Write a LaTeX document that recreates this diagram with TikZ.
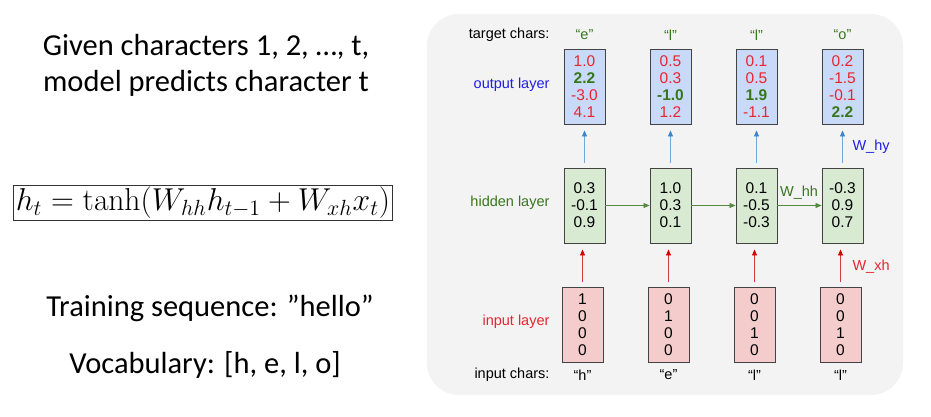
\documentclass[tikz,border=0pt]{standalone}
\usepackage[no-math]{fontspec}
\setmainfont{Liberation Sans}
\newfontfamily\slidefont{Carlito}
\usetikzlibrary{arrows.meta}
\definecolor{panel}{HTML}{F3F3F3}
\definecolor{outfill}{HTML}{C9DAF8}
\definecolor{hidfill}{HTML}{D9EAD3}
\definecolor{infill}{HTML}{F4CCCC}
\definecolor{boxline}{HTML}{434343}
\definecolor{nred}{HTML}{E8262E}
\definecolor{ngreen}{HTML}{38761D}
\definecolor{nblue}{HTML}{1F1FE6}
\definecolor{lblue}{HTML}{6FA8DC}
\definecolor{dblue}{HTML}{3D85C6}
\definecolor{lred}{HTML}{CC4040}
\begin{document}
\begin{tikzpicture}[x=1pt,y=-1pt,
  diag/.style={font=\fontsize{14.5}{17}\selectfont},
  cell/.style={draw=boxline, line width=0.9pt, minimum width=41pt, minimum height=75pt,
    inner sep=0pt, align=center, font=\fontsize{15.5}{17}\selectfont},
  outcell/.style={cell, fill=outfill},
  hidcell/.style={cell, fill=hidfill},
  incell/.style={cell, fill=infill},
  yarrow/.style={draw=lblue, line width=0.8pt, -{Triangle[length=6pt,width=5pt,fill=dblue,color=dblue]},
    shorten <=5pt, shorten >=6pt},
  xarrow/.style={draw=lred, line width=0.8pt, -{Triangle[length=6pt,width=5pt,fill=red!85!black,color=red!85!black]},
    shorten <=5pt, shorten >=6pt},
  harrow/.style={draw=ngreen!85, line width=0.8pt, -{Triangle[length=6pt,width=5pt]}},
  slide/.style={font=\slidefont\fontsize{30.5}{36}\selectfont, align=center}
]
\useasboundingbox (0,0) rectangle (931,417);

% left column: slide text
\node[slide] (given) at (206,65) {Given characters 1, 2, …, t,\\model predicts character t};
\node[draw=black!80, line width=0.8pt, inner sep=2pt] (eq) at (203,203)
  {\scalebox{1.83}{\LARGE$h_t = \tanh(W_{hh}h_{t-1} + W_{xh}x_t)$}};
\node[slide] (train) at (210,308) {Training sequence: ”hello”};
\node[slide] (vocab) at (205,365) {Vocabulary: [h, e, l, o]};

% right column: unrolled network
\fill[panel, rounded corners=32pt] (427,14) rectangle (903,395);

\node[diag, anchor=east] (tcl) at (553,35) {target chars:};
\node[diag, anchor=east, text=nblue] (ol) at (553,85) {output layer};
\node[diag, anchor=east, text=ngreen] (hl) at (553,203) {hidden layer};
\node[diag, anchor=east, text=nred] (il) at (553,322) {input layer};
\node[diag, anchor=east] (icl) at (553,375) {input chars:};

% output layer
\node[outcell] (o1) at (584.5,86.5) {\textcolor{nred}{1.0}\\\textcolor{ngreen}{\bfseries 2.2}\\\textcolor{nred}{-3.0}\\\textcolor{nred}{4.1}};
\node[outcell] (o2) at (670.5,86.5) {\textcolor{nred}{0.5}\\\textcolor{nred}{0.3}\\\textcolor{ngreen}{\bfseries -1.0}\\\textcolor{nred}{1.2}};
\node[outcell] (o3) at (756.5,86.5) {\textcolor{nred}{0.1}\\\textcolor{nred}{0.5}\\\textcolor{ngreen}{\bfseries 1.9}\\\textcolor{nred}{-1.1}};
\node[outcell] (o4) at (842.5,86.5) {\textcolor{nred}{0.2}\\\textcolor{nred}{-1.5}\\\textcolor{nred}{-0.1}\\\textcolor{ngreen}{\bfseries 2.2}};

% hidden layer
\node[hidcell] (h1) at (584.5,205.5) {0.3\\-0.1\\0.9};
\node[hidcell] (h2) at (670.5,205.5) {1.0\\0.3\\0.1};
\node[hidcell] (h3) at (756.5,205.5) {0.1\\-0.5\\-0.3};
\node[hidcell] (h4) at (842.5,205.5) {-0.3\\0.9\\0.7};

% input layer
\node[incell] (i1) at (582.5,324.5) {1\\0\\0\\0};
\node[incell] (i2) at (668.5,324.5) {0\\1\\0\\0};
\node[incell] (i3) at (754.5,324.5) {0\\0\\1\\0};
\node[incell] (i4) at (840.5,324.5) {0\\0\\1\\0};

% target and input characters
\foreach \n/\c in {1/e,2/l,3/l,4/o} {
  \node[diag, text=ngreen] (t\n) at (o\n.north |- tcl) {“\c”};
}
\foreach \n/\c in {1/h,2/e,3/l,4/l} {
  \node[diag] (c\n) at (i\n.south |- icl) {“\c”};
}

% connections
\foreach \n in {1,2,3,4} {
  \draw[yarrow] (h\n.north) -- (o\n.south);
  \draw[xarrow] (i\n.north) -- (i\n.north |- h\n.south);
}
\draw[harrow] (h1) -- (h2);
\draw[harrow] (h2) -- (h3);
\draw[harrow] (h3) -- (h4);

\node[diag, anchor=west, text=nblue] (why) at (849,147) {W\_hy};
\node[diag, text=ngreen] (whh) at (799,193) {W\_hh};
\node[diag, anchor=west, text=nred] (wxh) at (849,267) {W\_xh};
\end{tikzpicture}
\end{document}
